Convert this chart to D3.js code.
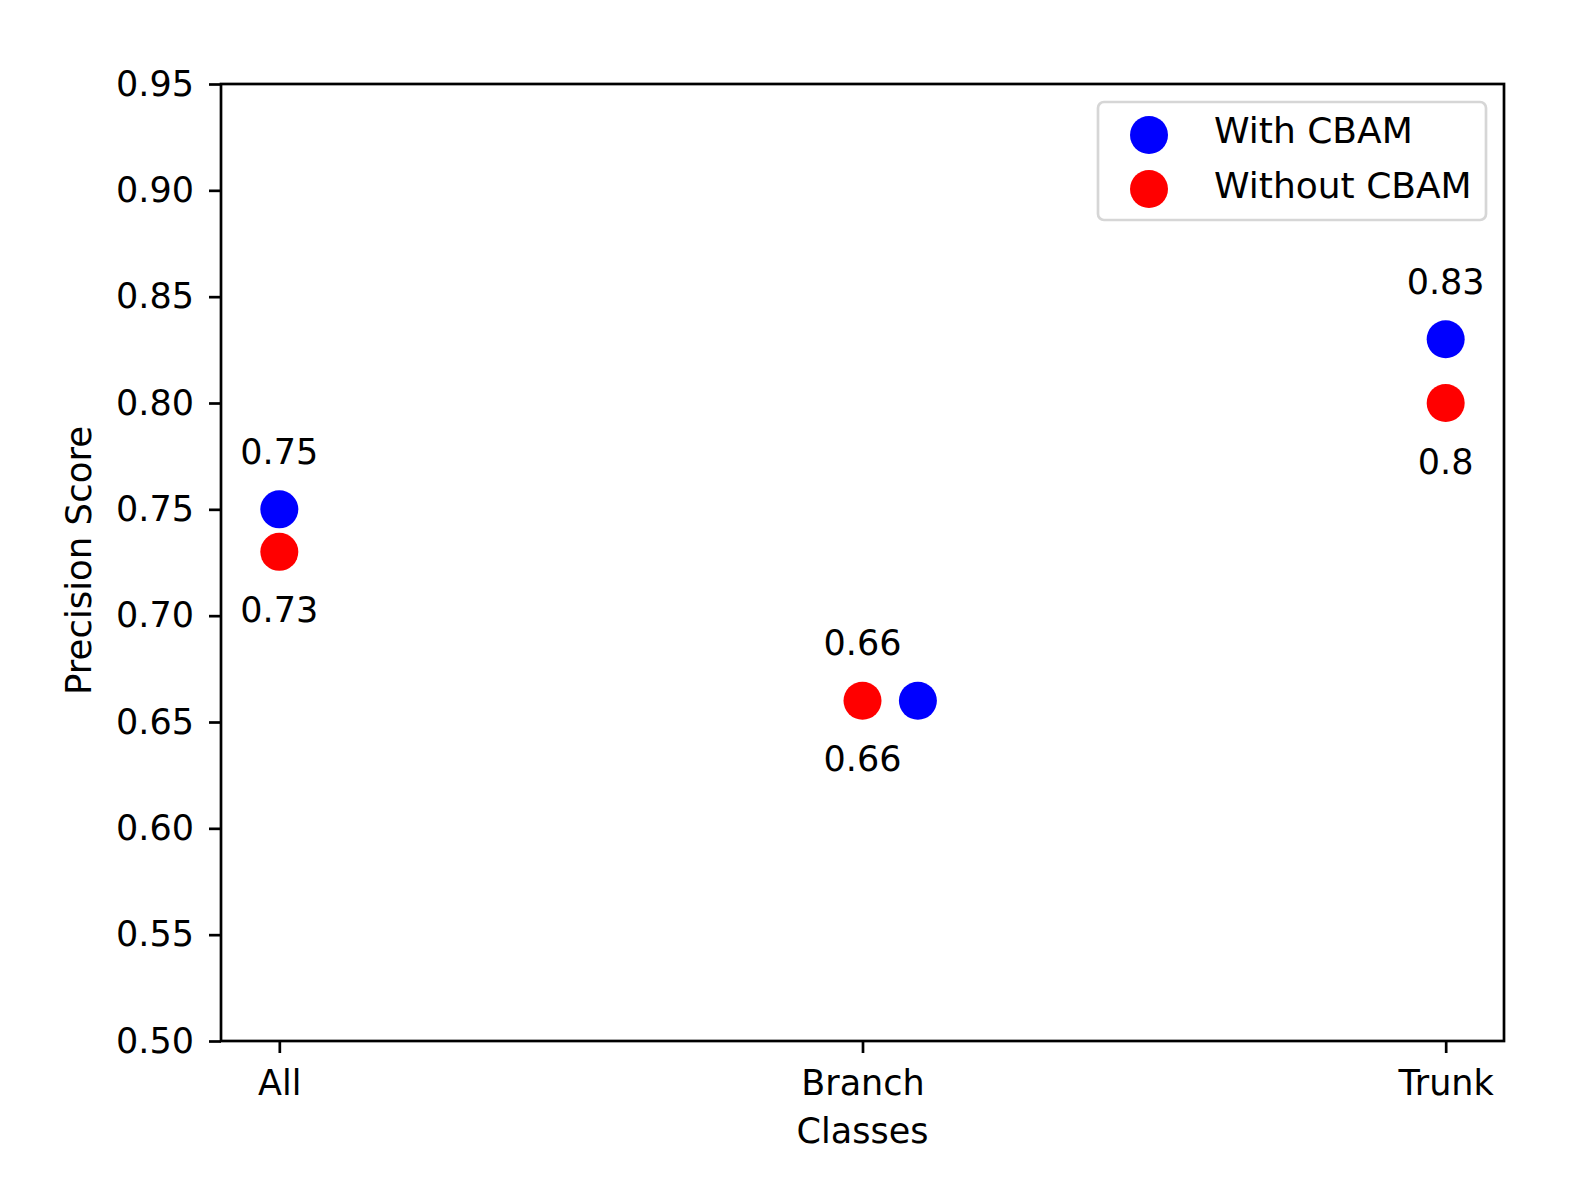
<!DOCTYPE html>
<html>
<head>
<meta charset="utf-8">
<script src="https://cdn.jsdelivr.net/npm/d3@7/dist/d3.min.js"></script>
<style>
  html, body { margin: 0; padding: 0; background: #fff; }
  svg { display: block; font-family: "DejaVu Sans", sans-serif; }
</style>
</head>
<body>
<svg id="chart" width="1577" height="1195"></svg>
<script>
// ---- data ----
const categories = ["All", "Branch", "Trunk"];
const categoryX = [0, 1, 2];
const withCBAM = [0.75, 0.66, 0.83];
const withCBAMX = [0, 1.095, 2];
const withoutCBAM = [0.73, 0.66, 0.80];
const withoutCBAMX = [0, 1, 2];
const yTicks = [0.50, 0.55, 0.60, 0.65, 0.70, 0.75, 0.80, 0.85, 0.90, 0.95];
const seriesNames = ["With CBAM", "Without CBAM"];
const seriesColors = ["#0000ff", "#ff0000"];

// ---- layout ----
const W = 1577, H = 1195;
const m = { left: 221, right: 73, top: 84, bottom: 154 };
const fs = 35;
const svg = d3.select("#chart");

const x = d3.scaleLinear().domain([-0.1, 2.1]).range([m.left, W - m.right]);
const y = d3.scaleLinear().domain([0.50, 0.95]).range([H - m.bottom, m.top]);

// y axis
const yAxis = svg.append("g").attr("transform", `translate(${m.left},0)`)
  .call(d3.axisLeft(y).tickValues(yTicks).tickFormat(d3.format(".2f")).tickSize(12).tickPadding(15));
yAxis.select(".domain").remove();
yAxis.selectAll("line").attr("stroke", "#000").attr("stroke-width", 2.7);
yAxis.selectAll("text").attr("font-size", fs).attr("fill", "#000").attr("font-family", "DejaVu Sans");

// x axis
const xAxis = svg.append("g").attr("transform", `translate(0,${H - m.bottom})`)
  .call(d3.axisBottom(x).tickValues(categoryX).tickFormat((d, i) => categories[i]).tickSize(12).tickPadding(17));
xAxis.select(".domain").remove();
xAxis.selectAll("line").attr("stroke", "#000").attr("stroke-width", 2.7);
xAxis.selectAll("text").attr("font-size", fs).attr("fill", "#000").attr("font-family", "DejaVu Sans");

// frame
svg.append("rect")
  .attr("x", m.left).attr("y", m.top)
  .attr("width", W - m.right - m.left).attr("height", H - m.bottom - m.top)
  .attr("fill", "none").attr("stroke", "#000").attr("stroke-width", 2.7);

// points
const r = 19;
svg.append("g").selectAll("circle").data(withCBAM).join("circle")
  .attr("cx", (d, i) => x(withCBAMX[i])).attr("cy", d => y(d)).attr("r", r)
  .attr("fill", seriesColors[0]);
svg.append("g").selectAll("circle").data(withoutCBAM).join("circle")
  .attr("cx", (d, i) => x(withoutCBAMX[i])).attr("cy", d => y(d)).attr("r", r)
  .attr("fill", seriesColors[1]);

// value labels
svg.append("g").selectAll("text").data(withCBAM).join("text")
  .attr("x", (d, i) => x(categoryX[i])).attr("y", d => y(d) - 58).attr("dy", "0.36em")
  .attr("text-anchor", "middle").attr("font-size", fs).attr("fill", "#000")
  .text(d => String(d));
svg.append("g").selectAll("text").data(withoutCBAM).join("text")
  .attr("x", (d, i) => x(categoryX[i])).attr("y", d => y(d) + 58).attr("dy", "0.36em")
  .attr("text-anchor", "middle").attr("font-size", fs).attr("fill", "#000")
  .text(d => String(d));

// axis labels
svg.append("text").attr("x", (m.left + W - m.right) / 2).attr("y", 1143)
  .attr("text-anchor", "middle").attr("font-size", fs).attr("fill", "#000").text("Classes");
svg.append("text")
  .attr("transform", `translate(78,${(m.top + H - m.bottom) / 2 - 2}) rotate(-90)`)
  .attr("dy", "0.36em").attr("text-anchor", "middle").attr("font-size", 35.5).attr("fill", "#000")
  .text("Precision Score");

// legend
const lx = W - m.right - 406, ly = m.top + 18;
const lg = svg.append("g");
lg.append("rect").attr("x", lx).attr("y", ly).attr("width", 388).attr("height", 118)
  .attr("rx", 6).attr("fill", "#fff").attr("fill-opacity", 0.8)
  .attr("stroke", "#d6d6d6").attr("stroke-width", 2.7);
seriesNames.forEach((name, i) => {
  lg.append("circle").attr("cx", lx + 51).attr("cy", ly + 33 + i * 54).attr("r", r)
    .attr("fill", seriesColors[i]);
  lg.append("text").attr("x", lx + 116).attr("y", ly + 41 + i * 55)
    .attr("font-size", 36).attr("fill", "#000").text(name);
});
</script>
</body>
</html>
